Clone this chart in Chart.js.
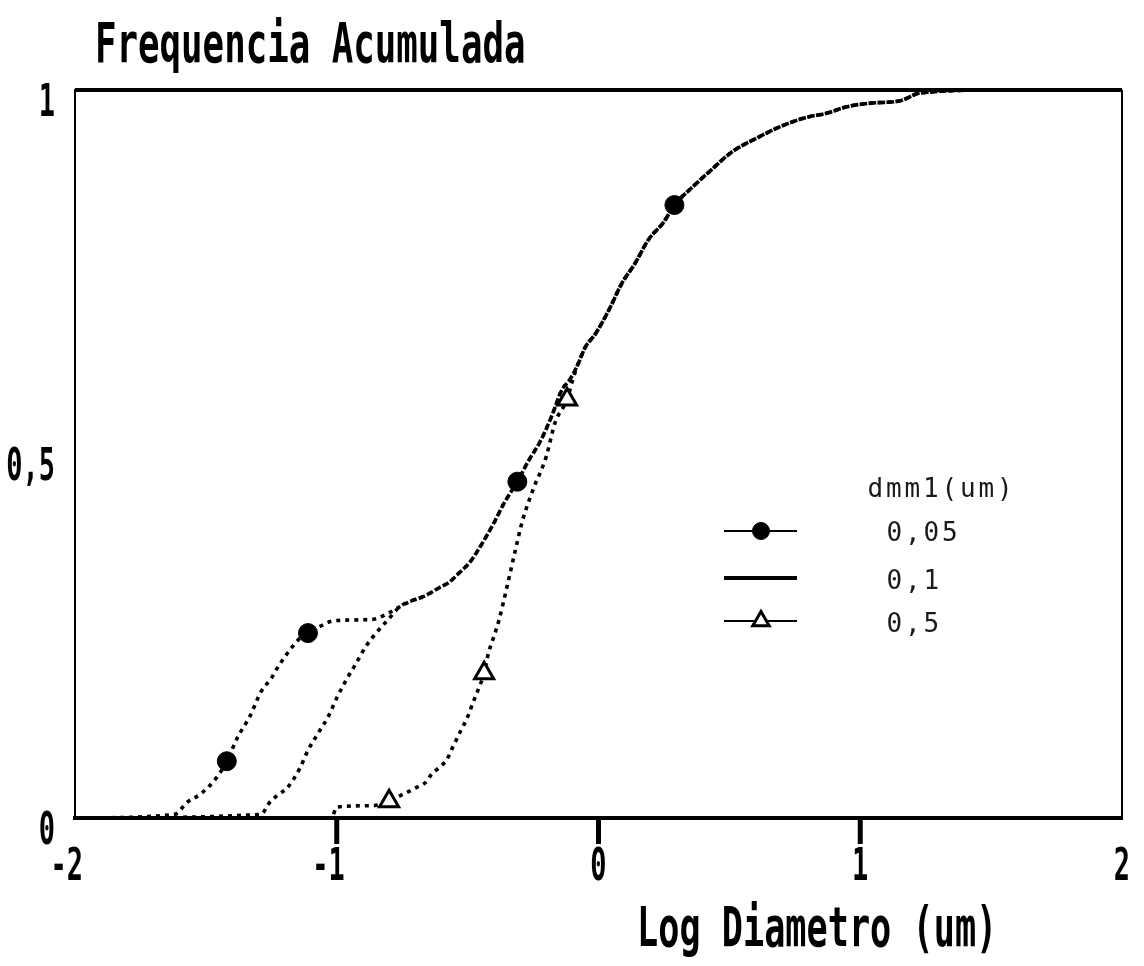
<!DOCTYPE html>
<html>
<head>
<meta charset="utf-8">
<script src="https://cdn.jsdelivr.net/npm/chart.js@4.4.1/dist/chart.umd.min.js"></script>
<style>
  html, body { margin: 0; padding: 0; background: #fff; }
  canvas { display: block; }
</style>
</head>
<body>
<canvas id="c" width="1144" height="966"></canvas>
<script>
// Cumulative frequency against log diameter for three dmm1 values

const chartTitle = 'Frequencia Acumulada';
const xAxisTitle = 'Log Diametro (um)';
const legendTitle = 'dmm1(um)';
const seriesLabels = ['0,05', '0,1', '0,5'];

const xTickValues = [-2, -1, 0, 1, 2];
const xTickLabels = ['-2', '-1', '0', '1', '2'];
const yTickValues = [0, 0.5, 1];
const yTickLabels = ['0', '0,5', '1'];

// Upper branch: all three curves run together here
const upperLogD = [-0.08, -0.05, -0.01, 0.04, 0.09, 0.14, 0.19, 0.25, 0.29, 0.36, 0.43,
                   0.51, 0.61, 0.69, 0.79, 0.87, 0.95, 1.04, 1.15, 1.23, 1.53, 2];
const upperFreq = [0.622, 0.647, 0.666, 0.698, 0.735, 0.762, 0.794, 0.819, 0.842, 0.867, 0.890,
                   0.915, 0.935, 0.949, 0.962, 0.968, 0.977, 0.982, 0.985, 0.996, 1, 1];

// dmm1 = 0,05
const logD005 = [-2, -1.62, -1.57, -1.52, -1.46, -1.42, -1.38, -1.33, -1.29, -1.25, -1.22, -1.17,
                 -1.14, -1.11, -1.07, -1.01, -0.86, -0.80, -0.76, -0.71, -0.67, -0.61, -0.57, -0.54,
                 -0.49, -0.46, -0.43, -0.40, -0.36, -0.31, -0.27, -0.22, -0.18, -0.14, -0.11];
const freq005 = [0, 0.005, 0.022, 0.033, 0.055, 0.078, 0.110, 0.141, 0.173, 0.192, 0.210, 0.235,
                 0.247, 0.254, 0.262, 0.271, 0.273, 0.282, 0.290, 0.299, 0.304, 0.316, 0.324, 0.334,
                 0.352, 0.368, 0.386, 0.405, 0.433, 0.462, 0.489, 0.519, 0.551, 0.588, 0.602];
const marks005 = [-1.42, -1.11, -0.31, 0.29];

// dmm1 = 0,1 (joins the 0,05 curve after its last point)
const logD01 = [-2, -1.29, -1.255, -1.22, -1.19, -1.14, -1.11, -1.07, -1.03, -1.00, -0.96,
                -0.93, -0.89, -0.85, -0.80];
const freq01 = [0, 0.005, 0.022, 0.033, 0.041, 0.069, 0.093, 0.117, 0.141, 0.165, 0.192,
                0.210, 0.235, 0.254, 0.274];

// dmm1 = 0,5
const logD05 = [-2, -1.02, -1.00, -0.86, -0.80, -0.75, -0.70, -0.66, -0.64, -0.61, -0.58, -0.556,
                -0.53, -0.50, -0.48, -0.46, -0.437, -0.42, -0.40, -0.38, -0.35, -0.32, -0.29,
                -0.25, -0.20, -0.166, -0.12, -0.10];
const freq05 = [0, 0, 0.015, 0.017, 0.023, 0.032, 0.041, 0.049, 0.059, 0.069, 0.080, 0.098,
                0.117, 0.139, 0.158, 0.176, 0.199, 0.227, 0.249, 0.272, 0.317, 0.364, 0.409,
                0.451, 0.496, 0.543, 0.575, 0.600];
const marks05 = [-0.80, -0.437, -0.12];

// ---- build point lists ----
const toPoints = (xs, ys) => xs.map((x, i) => ({ x: x, y: ys[i] }));
const upperPts = toPoints(upperLogD, upperFreq);
const pts005 = toPoints(logD005, freq005).concat(upperPts);
const lastLow01 = logD01[logD01.length - 1];
const pts01 = toPoints(logD01, freq01)
  .concat(toPoints(logD005, freq005).filter(p => p.x > lastLow01))
  .concat(upperPts);
const pts05 = toPoints(logD05, freq05).concat(upperPts);

const INK = '#000';
const MONO = '"DejaVu Sans Mono", "Liberation Mono", monospace';

function lineStyle() {
  return {
    borderColor: INK,
    borderWidth: 3.6,
    borderDash: [4, 5],
    borderCapStyle: 'butt',
    cubicInterpolationMode: 'monotone',
    fill: false
  };
}

// Condensed bold text, as drawn on the plotter
function condensedText(ctx, text, x, y, size, sx, align) {
  ctx.save();
  ctx.font = 'bold ' + size + 'px ' + MONO;
  ctx.textAlign = 'left';
  ctx.textBaseline = 'alphabetic';
  const w = ctx.measureText(text).width * sx;
  let left = x;
  if (align === 'right') left = x - w;
  else if (align === 'center') left = x - w / 2;
  ctx.translate(left, y);
  ctx.scale(sx, 1);
  ctx.fillStyle = INK;
  ctx.fillText(text, 0, 0);
  ctx.restore();
  return w;
}

// Evenly spaced legend lettering
function spacedText(ctx, text, x, y, adv) {
  ctx.save();
  ctx.font = '26px ' + MONO;
  ctx.textAlign = 'center';
  ctx.textBaseline = 'alphabetic';
  ctx.fillStyle = '#1a1a1a';
  for (let i = 0; i < text.length; i++) {
    ctx.fillText(text[i], x + i * adv + adv / 2, y);
  }
  ctx.restore();
}

const framePlugin = {
  id: 'plotFrame',
  beforeDatasetsDraw(chart) {
    const ctx = chart.ctx;
    const a = chart.chartArea;
    ctx.save();
    ctx.strokeStyle = INK;
    ctx.lineWidth = 4;
    ctx.beginPath();
    ctx.moveTo(a.left, a.top);
    ctx.lineTo(a.right, a.top);
    ctx.stroke();
    ctx.lineWidth = 2;
    ctx.beginPath();
    ctx.moveTo(a.right, a.top);
    ctx.lineTo(a.right, a.bottom);
    ctx.stroke();
    ctx.restore();
  }
};

// Short tick marks hanging below the x axis at the inner ticks
const tickMarkPlugin = {
  id: 'xTickMarks',
  afterDraw(chart) {
    const ctx = chart.ctx;
    const xs = chart.scales.x;
    const yBase = chart.scales.y.getPixelForValue(0);
    ctx.save();
    ctx.strokeStyle = '#000000';
    ctx.lineWidth = 5;
    ctx.lineCap = 'butt';
    ctx.setLineDash([]);
    xTickValues.slice(1, -1).forEach(v => {
      const px = xs.getPixelForValue(v);
      ctx.beginPath();
      ctx.moveTo(px, yBase);
      ctx.lineTo(px, yBase + 26);
      ctx.stroke();
    });
    ctx.restore();
  }
};

const textPlugin = {
  id: 'plotText',
  afterDraw(chart) {
    const ctx = chart.ctx;
    const xs = chart.scales.x, ys = chart.scales.y;

    // titles
    condensedText(ctx, chartTitle, 95, 62, 55, 0.65, 'left');
    condensedText(ctx, xAxisTitle, 637, 946, 55, 0.64, 'left');

    // tick labels: last digit centred on the tick
    const tickSize = 45, tickSx = 0.6;
    ctx.save();
    ctx.font = 'bold ' + tickSize + 'px ' + MONO;
    const charW = ctx.measureText('0').width * tickSx;
    ctx.restore();
    xTickValues.forEach((v, i) => {
      const px = xs.getPixelForValue(v);
      condensedText(ctx, xTickLabels[i], px + charW / 2, 880, tickSize, tickSx, 'right');
    });
    yTickValues.forEach((v, i) => {
      const py = ys.getPixelForValue(v);
      condensedText(ctx, yTickLabels[i], 55, py + 26, tickSize, tickSx, 'right');
    });

    // legend
    const ds = chart.data.datasets;
    spacedText(ctx, legendTitle, 866, 497, 18.5);
    const rows = [531, 578, 621];
    const textBase = [541, 589, 632];
    ds.forEach((d, i) => {
      const y = rows[i];
      ctx.save();
      ctx.strokeStyle = INK;
      ctx.lineWidth = i === 1 ? 4 : 2;
      ctx.beginPath();
      ctx.moveTo(724, y);
      ctx.lineTo(797, y);
      ctx.stroke();
      if (d.legendMarker) {
        ctx.fillStyle = d.pointBackgroundColor;
        ctx.strokeStyle = INK;
        ctx.lineWidth = d.pointBorderWidth;
        Chart.helpers.drawPoint(ctx, {
          pointStyle: d.pointStyle,
          radius: d.legendMarker,
          borderWidth: d.pointBorderWidth,
          rotation: 0
        }, 761, y);
      }
      ctx.restore();
      spacedText(ctx, d.label, 885, textBase[i], 18.5);
    });
  }
};

const radiusFor = (marks, r) => (c) => (c.raw && marks.includes(c.raw.x)) ? r : 0;

new Chart(document.getElementById('c'), {
  type: 'line',
  data: {
    datasets: [
      Object.assign({
        label: seriesLabels[0],
        data: pts005,
        pointStyle: 'circle',
        pointRadius: radiusFor(marks005, 9.5),
        pointBackgroundColor: INK,
        pointBorderColor: INK,
        pointBorderWidth: 1,
        legendMarker: 8.5
      }, lineStyle()),
      Object.assign({
        label: seriesLabels[1],
        data: pts01,
        pointRadius: 0
      }, lineStyle()),
      Object.assign({
        label: seriesLabels[2],
        data: pts05,
        pointStyle: 'triangle',
        pointRadius: radiusFor(marks05, 11),
        pointBackgroundColor: '#fff',
        pointBorderColor: INK,
        pointBorderWidth: 3,
        legendMarker: 9.5
      }, lineStyle())
    ]
  },
  options: {
    responsive: false,
    animation: false,
    devicePixelRatio: 1,
    events: [],
    layout: { padding: { top: 90, right: 22, left: 0, bottom: 0 } },
    plugins: {
      legend: { display: false },
      title: { display: false },
      tooltip: { enabled: false }
    },
    scales: {
      x: {
        type: 'linear',
        min: -2,
        max: 2,
        afterFit(scale) { scale.height = 148; },
        afterBuildTicks(scale) { scale.ticks = xTickValues.map(v => ({ value: v })); },
        ticks: { display: false },
        grid: { display: false },
        border: { display: true, color: INK, width: 4 }
      },
      y: {
        type: 'linear',
        min: 0,
        max: 1,
        afterFit(scale) { scale.width = 75; },
        afterBuildTicks(scale) { scale.ticks = yTickValues.map(v => ({ value: v })); },
        ticks: { display: false },
        grid: { display: false },
        border: { display: true, color: INK, width: 2 }
      }
    }
  },
  plugins: [framePlugin, tickMarkPlugin, textPlugin]
});
</script>
</body>
</html>
